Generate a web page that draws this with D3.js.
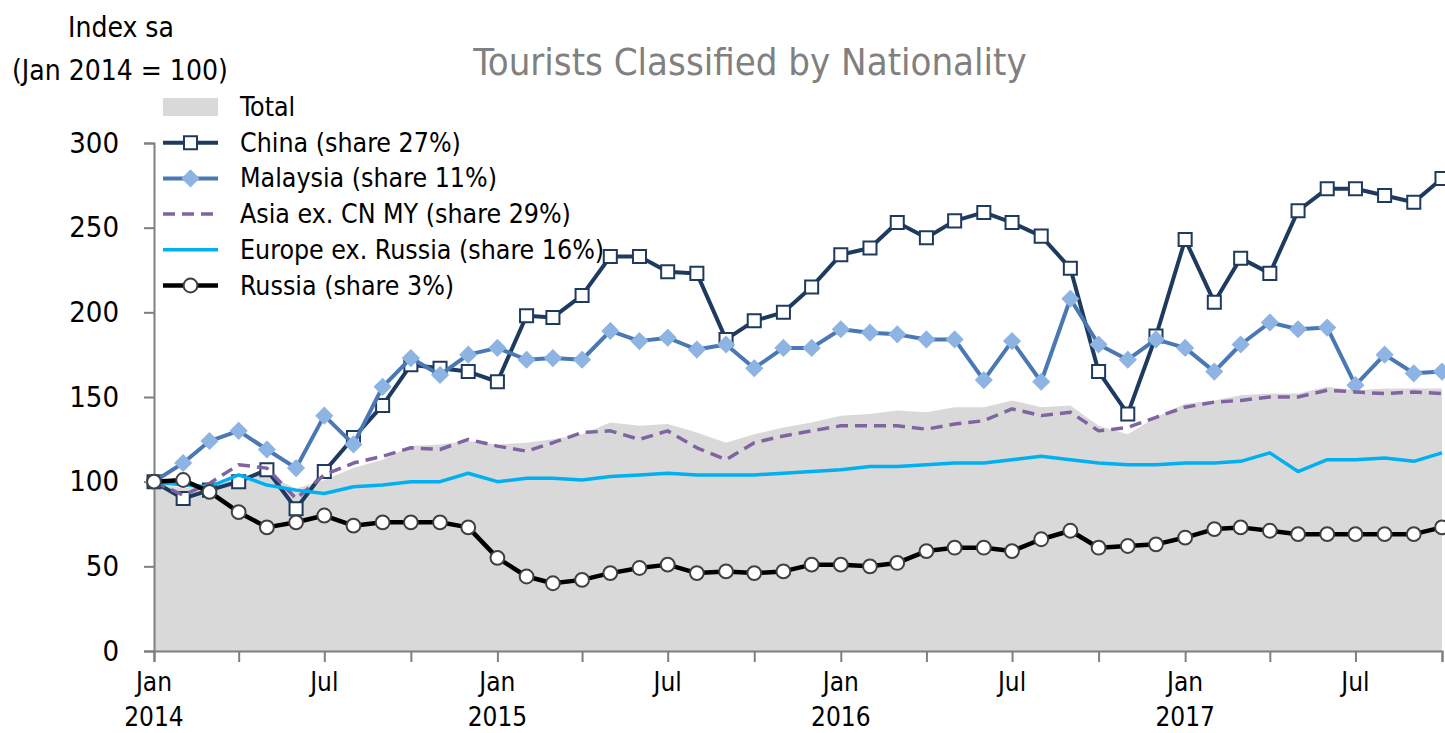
<!DOCTYPE html>
<html>
<head>
<meta charset="utf-8">
<script src="https://cdn.jsdelivr.net/npm/d3@7"></script>
<style>
  body { margin: 0; background: #fff; }
  svg text { font-family: Tahoma, "DejaVu Sans Condensed", "DejaVu Sans", sans-serif; }
</style>
</head>
<body>
<script>
// monthly index, Jan 2014 = 100, Jan 2014 .. Oct 2017
var months = d3.timeMonth.range(new Date(2014, 0, 1), new Date(2017, 10, 1));

var total    = [100,96,98,104,104,96,101,108,113,121,122,124,122,123,125,128,135,133,134,129,123,128,132,135,139,140,142,141,144,144,148,144,145,133,128,138,146,148,151,152,152,156,154,155,155,155];
var china    = [100,90,95,100,107,84,106,126,145,169,167,165,159,198,197,210,233,233,224,223,184,195,200,215,234,238,253,244,254,259,253,245,226,165,140,186,243,206,232,223,260,273,273,269,265,279];
var malaysia = [100,111,124,130,119,108,139,122,156,173,163,175,179,172,173,172,189,183,185,178,181,167,179,179,190,188,187,184,184,160,183,159,208,181,172,184,179,165,181,194,190,191,157,175,164,165];
var asia     = [100,92,99,110,108,90,104,111,115,120,119,125,121,118,123,129,130,125,130,120,113,123,127,130,133,133,133,131,134,136,143,139,141,130,132,138,144,147,148,150,150,154,153,152,153,152];
var europe   = [100,98,97,104,98,95,93,97,98,100,100,105,100,102,102,101,103,104,105,104,104,104,105,106,107,109,109,110,111,111,113,115,113,111,110,110,111,111,112,117,106,113,113,114,112,117];
var russia   = [100,101,94,82,73,76,80,74,76,76,76,73,55,44,40,42,46,49,51,46,47,46,47,51,51,50,52,59,61,61,59,66,71,61,62,63,67,72,73,71,69,69,69,69,69,73];

var legendNames = ["Total", "China (share 27%)", "Malaysia (share 11%)", "Asia ex. CN MY (share 29%)", "Europe ex. Russia (share 16%)", "Russia (share 3%)"];
var yTicks = [0, 50, 100, 150, 200, 250, 300];

var width = 1445, height = 733;
var margin = {top: 143, left: 154, right: 3, bottom: 82};

var svg = d3.select("body").append("svg")
  .attr("width", width)
  .attr("height", height);

var x = d3.scaleTime()
  .domain([months[0], months[months.length - 1]])
  .range([margin.left, width - margin.right]);
var y = d3.scaleLinear()
  .domain([0, 300])
  .range([height - margin.bottom, margin.top]);

// total as grey area
var area = d3.area()
  .x(function(d, i){ return x(months[i]); })
  .y0(y(0))
  .y1(function(d){ return y(d); });
svg.append("path").datum(total)
  .attr("d", area)
  .attr("fill", "#d9d9d9");

// axes
var yAxis = svg.append("g")
  .attr("transform", "translate(" + margin.left + ",0)")
  .call(d3.axisLeft(y).tickValues(yTicks).tickSize(10).tickPadding(25));
yAxis.select(".domain").attr("stroke", "#7f7f7f").attr("stroke-width", 2);
yAxis.selectAll(".tick line").attr("stroke", "#7f7f7f").attr("stroke-width", 2);
yAxis.selectAll(".tick text").attr("font-size", 29).attr("fill", "#000")
  .attr("font-family", "Tahoma, 'DejaVu Sans Condensed', 'DejaVu Sans', sans-serif");

var xAxis = svg.append("g")
  .attr("transform", "translate(0," + y(0) + ")")
  .call(d3.axisBottom(x).ticks(d3.timeMonth.every(3)).tickSize(11).tickFormat(""));
xAxis.select(".domain").attr("stroke", "#7f7f7f").attr("stroke-width", 2);
xAxis.selectAll(".tick line").attr("stroke", "#7f7f7f").attr("stroke-width", 2);

var labelMonths = months.filter(function(d){ return d.getMonth() === 0 || d.getMonth() === 6; });
svg.selectAll(".mlab").data(labelMonths).enter().append("text")
  .attr("class", "mlab")
  .attr("x", function(d){ return x(d); })
  .attr("y", 691)
  .attr("text-anchor", "middle")
  .attr("font-size", 26)
  .text(function(d){ return d.getMonth() === 0 ? "Jan" : "Jul"; });
svg.selectAll(".ylab").data(labelMonths.filter(function(d){ return d.getMonth() === 0; })).enter().append("text")
  .attr("class", "ylab")
  .attr("x", function(d){ return x(d); })
  .attr("y", 726)
  .attr("text-anchor", "middle")
  .attr("font-size", 26)
  .text(function(d){ return d.getFullYear(); });

// series
var line = d3.line()
  .x(function(d, i){ return x(months[i]); })
  .y(function(d){ return y(d); });

var series = [
  {data: china,    color: "#1f3a5f", width: 4,   marker: "square",  fill: "#ffffff", mstroke: "#1f3a5f"},
  {data: malaysia, color: "#4a78b4", width: 4,   marker: "diamond", fill: "#8db4e2", mstroke: "#8db4e2"},
  {data: asia,     color: "#8064a2", width: 3.5, dash: "12,7"},
  {data: europe,   color: "#00b0f0", width: 3.5},
  {data: russia,   color: "#000000", width: 4.5, marker: "circle",  fill: "#ffffff", mstroke: "#404040"}
];

var symbolFor = {
  square: d3.symbol().type(d3.symbolSquare).size(170),
  diamond: d3.symbol().type(d3.symbolDiamond2).size(150),
  circle: d3.symbol().type(d3.symbolCircle).size(150)
};

series.forEach(function(s){
  svg.append("path").datum(s.data)
    .attr("d", line)
    .attr("fill", "none")
    .attr("stroke", s.color)
    .attr("stroke-width", s.width)
    .attr("stroke-dasharray", s.dash || null)
    .attr("stroke-linejoin", "round");
  if (s.marker) {
    svg.selectAll(null).data(s.data).enter().append("path")
      .attr("d", symbolFor[s.marker])
      .attr("transform", function(d, i){ return "translate(" + x(months[i]) + "," + y(d) + ")"; })
      .attr("fill", s.fill)
      .attr("stroke", s.mstroke)
      .attr("stroke-width", 2);
  }
});

// titles
svg.append("text").attr("x", 68).attr("y", 37).attr("font-size", 28).text("Index sa");
svg.append("text").attr("x", 12).attr("y", 80).attr("font-size", 28).text("(Jan 2014 = 100)");
svg.append("text").attr("x", 750).attr("y", 75).attr("text-anchor", "middle")
  .attr("font-size", 38).attr("fill", "#808080").text("Tourists Classified by Nationality");

// legend
var lx = 163, lw = 55, ly0 = 107, lstep = 35.7;
var legend = svg.append("g");
legend.append("rect").attr("x", lx).attr("y", ly0 - 9).attr("width", lw).attr("height", 18).attr("fill", "#d9d9d9");
series.forEach(function(s, k){
  var yy = ly0 + (k + 1) * lstep;
  legend.append("line")
    .attr("x1", lx).attr("x2", lx + lw).attr("y1", yy).attr("y2", yy)
    .attr("stroke", s.color).attr("stroke-width", s.width)
    .attr("stroke-dasharray", s.dash || null);
  if (s.marker) {
    legend.append("path").attr("d", symbolFor[s.marker])
      .attr("transform", "translate(" + (lx + lw / 2) + "," + yy + ")")
      .attr("fill", s.fill).attr("stroke", s.mstroke).attr("stroke-width", 2);
  }
});
legend.selectAll("text").data(legendNames).enter().append("text")
  .attr("x", 240)
  .attr("y", function(d, k){ return ly0 + k * lstep + 9; })
  .attr("font-size", 26.5)
  .text(function(d){ return d; });
</script>
</body>
</html>
